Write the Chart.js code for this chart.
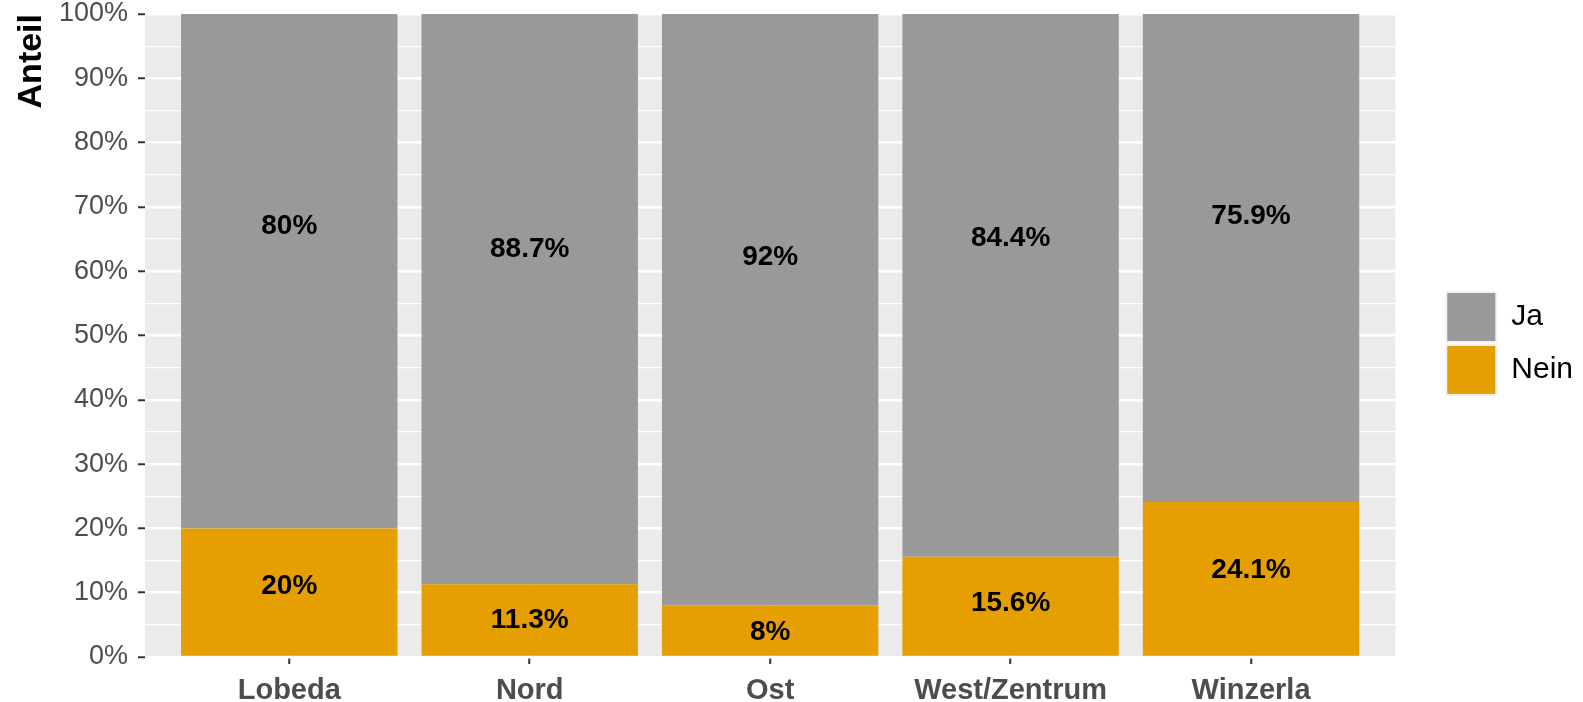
<!DOCTYPE html>
<html>
<head>
<meta charset="utf-8">
<script src="https://cdn.jsdelivr.net/npm/chart.js@4"></script>
<style>
  body { margin: 0; background: #fff; }
  #wrap { width: 1583px; height: 702px; }
</style>
</head>
<body>
<div id="wrap"><canvas id="anteil" width="1583" height="702"></canvas></div>
<script>
var categories = ['Lobeda', 'Nord', 'Ost', 'West/Zentrum', 'Winzerla'];
var ja = [0.80, 0.887, 0.92, 0.844, 0.759];
var nein = [0.20, 0.113, 0.08, 0.156, 0.241];
var yTicks = [0, 0.05, 0.1, 0.15, 0.2, 0.25, 0.3, 0.35, 0.4, 0.45, 0.5, 0.55, 0.6, 0.65, 0.7, 0.75, 0.8, 0.85, 0.9, 0.95, 1];

const FONT = '"Liberation Sans", Arial, Helvetica, sans-serif';

function points(values) {
  return values.map(function (v, i) { return { x: i, y: v }; });
}
function isMajor(v) {
  return Math.round(v * 100) % 10 === 0;
}

// grey ggplot panel behind the grid
var panel = {
  id: 'panel',
  beforeDraw: function (chart) {
    var a = chart.chartArea, ctx = chart.ctx;
    ctx.save();
    ctx.fillStyle = '#EBEBEB';
    ctx.fillRect(a.left, a.top, a.right - a.left, a.bottom - a.top);
    ctx.restore();
  }
};

// percentage text inside each segment
var barText = {
  id: 'barText',
  afterDatasetsDraw: function (chart) {
    var ctx = chart.ctx;
    ctx.save();
    ctx.font = 'bold 28px ' + FONT;
    ctx.fillStyle = '#000';
    ctx.textAlign = 'center';
    ctx.textBaseline = 'middle';
    chart.data.datasets.forEach(function (ds, d) {
      chart.getDatasetMeta(d).data.forEach(function (bar, i) {
        var v = ds.data[i].y;
        var y = bar.base + 0.6 * (bar.y - bar.base) + 7;
        ctx.fillText(Math.round(v * 1000) / 10 + '%', bar.x, y);
      });
    });
    ctx.restore();
  }
};

var ctx = document.getElementById('anteil').getContext('2d');
new Chart(ctx, {
  type: 'bar',
  data: {
    datasets: [{
      label: 'Nein',
      data: points(nein),
      backgroundColor: '#E69F00',
      borderWidth: 0
    }, {
      label: 'Ja',
      data: points(ja),
      backgroundColor: '#999999',
      borderWidth: 0
    }]
  },
  options: {
    responsive: false,
    animation: false,
    layout: { padding: { top: 14, bottom: 0, left: 0, right: 0 } },
    datasets: { bar: { barPercentage: 0.9, categoryPercentage: 1 } },
    plugins: {
      tooltip: { enabled: false },
      legend: {
        position: 'right',
        fullSize: false,
        reverse: true,
        // empty title only pushes the keys down a little
        title: { display: true, text: ' ', padding: 0, font: { size: 10, lineHeight: 1.6 } },
        labels: {
          boxWidth: 50,
          boxHeight: 50,
          padding: 3,
          color: '#000',
          font: { family: FONT, size: 30 },
          generateLabels: function (chart) {
            var items = Chart.defaults.plugins.legend.labels.generateLabels(chart);
            items.forEach(function (it) { it.strokeStyle = '#F2F2F2'; it.lineWidth = 2; });
            return items;
          }
        }
      }
    },
    scales: {
      x: {
        type: 'linear',
        stacked: true,
        offset: false,
        min: -0.6,
        max: 4.6,
        afterBuildTicks: function (axis) {
          axis.ticks = categories.map(function (c, i) { return { value: i }; });
        },
        afterFit: function (axis) { axis.height = 45; },
        border: { display: false },
        grid: { offset: false, color: '#FFFFFF', lineWidth: 2.5, tickColor: '#333333', tickWidth: 2, tickLength: 7 },
        ticks: {
          autoSkip: false,
          maxRotation: 0,
          padding: 10,
          color: '#4D4D4D',
          font: { family: FONT, size: 29, weight: 'bold' },
          callback: function (v) { return categories[Math.round(v)]; }
        }
      },
      y: {
        stacked: true,
        min: 0,
        max: 1,
        afterBuildTicks: function (axis) {
          axis.ticks = yTicks.map(function (v) { return { value: v }; });
        },
        afterFit: function (axis) {
          axis.width = 145;
          axis.paddingTop = 0;
          axis.paddingBottom = 0;
        },
        border: { display: false },
        grid: {
          color: '#FFFFFF',
          lineWidth: function (c) { return isMajor(c.tick.value) ? 2.5 : 1.2; },
          tickColor: function (c) { return isMajor(c.tick.value) ? '#333333' : 'rgba(0,0,0,0)'; },
          tickWidth: 2,
          tickLength: 7
        },
        ticks: {
          autoSkip: false,
          padding: 10,
          color: '#4D4D4D',
          font: { family: FONT, size: 27, lineHeight: 1 },
          callback: function (v) { return isMajor(v) ? Math.round(v * 100) + '%' : ''; }
        },
        title: {
          display: true,
          text: 'Anteil',
          align: 'end',
          color: '#000',
          padding: { top: 11, bottom: 0 },
          font: { family: FONT, size: 34, weight: 'bold' }
        }
      },
      // spacer between panel and legend
      gap: {
        type: 'linear',
        position: 'right',
        display: true,
        border: { display: false },
        grid: { display: false },
        ticks: { display: false },
        afterFit: function (axis) { axis.width = 48; }
      }
    }
  },
  plugins: [panel, barText]
});
</script>
</body>
</html>
